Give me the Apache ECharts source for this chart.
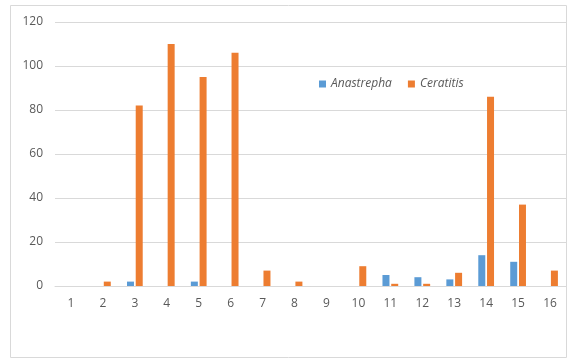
<!DOCTYPE html>
<html><head><meta charset="utf-8">
<script src="https://cdn.jsdelivr.net/npm/echarts@6/dist/echarts.min.js"></script>
<style>html,body{margin:0;padding:0;background:#fff}#c{width:571px;height:359px}</style>
</head><body><div id="c"></div>
<script>
var categories = ['1','2','3','4','5','6','7','8','9','10','11','12','13','14','15','16'];
var anastrepha = [0,0,2,0,2,0,0,0,0,0,5,4,3,14,11,0];
var ceratitis = [0,2,82,110,95,106,7,2,0,9,1,1,6,86,37,7];
var yTicks = {min:0, max:120, interval:20};

var chart = echarts.init(document.getElementById('c'));
chart.setOption({
  animation:false,
  graphic:[{type:'rect',shape:{x:10.5,y:5.5,width:556,height:352},style:{fill:'none',stroke:'#d9d9d9',lineWidth:1},silent:true}],
  legend:{left:314,top:73,itemWidth:7,itemHeight:7,itemGap:16,icon:'rect',
    textStyle:{color:'#595959',fontStyle:'italic',fontSize:12,fontFamily:'Open Sans'},
    data:['Anastrepha','Ceratitis']},
  grid:{left:55,right:5,top:22,bottom:73},
  xAxis:{type:'category',data:categories,
    axisLine:{lineStyle:{color:'#d9d9d9'}},axisTick:{show:false},
    axisLabel:{color:'#595959',fontSize:12,margin:12,fontFamily:'Open Sans'}},
  yAxis:{type:'value',min:yTicks.min,max:yTicks.max,interval:yTicks.interval,
    axisLine:{show:false},axisTick:{show:false},
    splitLine:{lineStyle:{color:'#d9d9d9'}},
    axisLabel:{color:'#595959',fontSize:12,margin:12,fontFamily:'Open Sans'}},
  series:[
    {name:'Anastrepha',type:'bar',data:anastrepha,itemStyle:{color:'#5b9bd5'},barWidth:7,barGap:'25%'},
    {name:'Ceratitis',type:'bar',data:ceratitis,itemStyle:{color:'#ed7d31'},barWidth:7}
  ]
});
</script></body></html>
